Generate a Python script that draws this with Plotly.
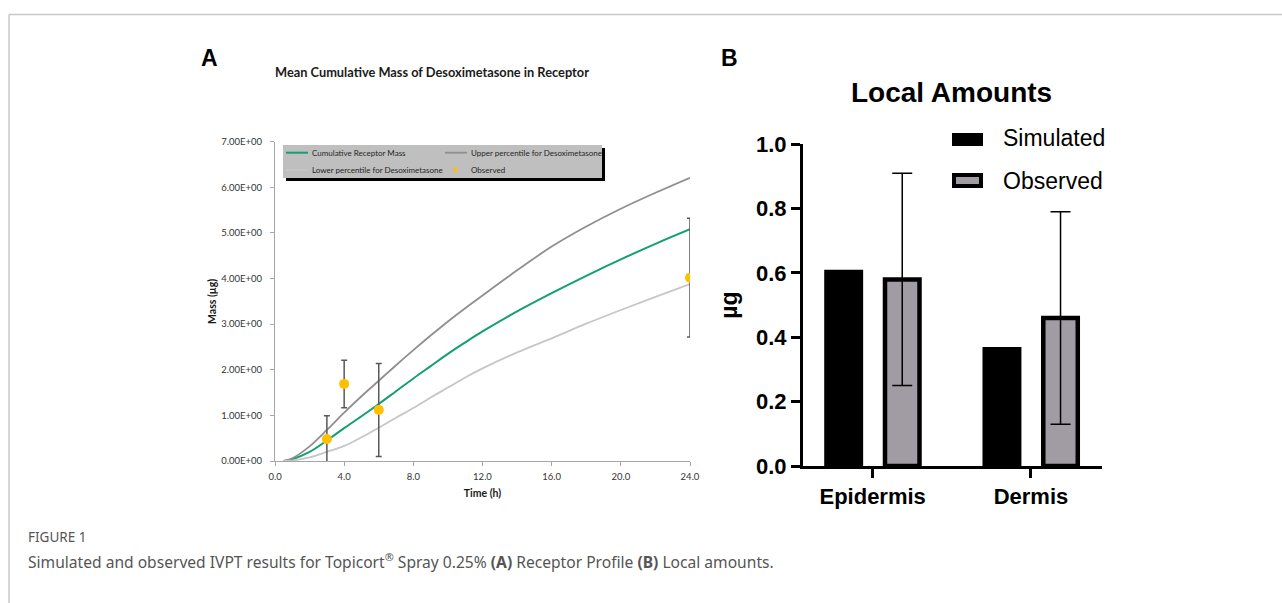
import plotly.graph_objects as go

W, H = 1282, 603

# ---- Panel A: receptor profile ----
time_h = [0.5, 1, 2, 3, 4, 5, 6, 7, 8, 9, 10, 11, 12, 14, 16, 18, 20, 22, 24]
mean_mass = [0, 0.04, 0.2, 0.45, 0.72, 0.98, 1.25, 1.53, 1.81, 2.08, 2.35, 2.6, 2.84,
             3.28, 3.68, 4.06, 4.42, 4.76, 5.08]
upper_mass = [0, 0.06, 0.32, 0.68, 1.06, 1.42, 1.76, 2.1, 2.43, 2.75, 3.06, 3.35, 3.63,
              4.18, 4.70, 5.14, 5.53, 5.88, 6.21]
lower_mass = [0, 0.01, 0.08, 0.2, 0.33, 0.52, 0.73, 0.95, 1.16, 1.39, 1.61, 1.83, 2.03,
              2.38, 2.69, 3.01, 3.31, 3.6, 3.88]
obs_time = [3, 4, 6, 24]
obs_mass = [0.48, 1.69, 1.12, 4.02]
obs_err = [0.51, 0.52, 1.02, 1.30]

a_yticks = [0, 1, 2, 3, 4, 5, 6, 7]
a_yticktext = ["0.00E+00", "1.00E+00", "2.00E+00", "3.00E+00", "4.00E+00",
               "5.00E+00", "6.00E+00", "7.00E+00"]
a_xticks = [0, 4, 8, 12, 16, 20, 24]
a_xticktext = ["0.0", "4.0", "8.0", "12.0", "16.0", "20.0", "24.0"]

# ---- Panel B: local amounts ----
layers = ["Epidermis", "Dermis"]
simulated = [0.61, 0.37]
observed = [0.58, 0.46]
observed_err = [0.33, 0.33]

# colours
GREEN = "#12a070"
UPPER = "#8f8f8f"
LOWER = "#c6c6c6"
GOLD = "#ffc000"
OBS_FILL = "#a19ca4"

FA = "Lato"
FB = "Liberation Sans"


def px_x(p):
    return p / W


def px_y(p):
    return 1 - p / H


fig = go.Figure()

# Panel A traces
fig.add_trace(go.Scatter(
    x=time_h, y=mean_mass, mode="lines", name="Cumulative Receptor Mass",
    line=dict(color=GREEN, width=2, shape="spline"), xaxis="x", yaxis="y"))
fig.add_trace(go.Scatter(
    x=time_h, y=upper_mass, mode="lines", name="Upper percentile for Desoximetasone",
    line=dict(color=UPPER, width=1.8, shape="spline"), xaxis="x", yaxis="y"))
fig.add_trace(go.Scatter(
    x=time_h, y=lower_mass, mode="lines", name="Lower percentile for Desoximetasone",
    line=dict(color=LOWER, width=1.8, shape="spline"), xaxis="x", yaxis="y"))
fig.add_trace(go.Scatter(
    x=obs_time, y=obs_mass, mode="markers", name="Observed",
    marker=dict(color=GOLD, size=10),
    error_y=dict(type="data", array=obs_err, color="#595959", thickness=1.5, width=3),
    xaxis="x", yaxis="y"))

# Panel B traces
fig.add_trace(go.Bar(
    x=layers, y=simulated, name="Simulated",
    marker=dict(color="black", line=dict(color="black", width=0)),
    width=0.246, offset=-0.306, xaxis="x2", yaxis="y2"))
fig.add_trace(go.Bar(
    x=layers, y=observed, name="Observed",
    marker=dict(color=OBS_FILL, line=dict(color="black", width=4.5)),
    error_y=dict(type="data", array=observed_err, color="black", thickness=1.5, width=10),
    width=0.218, offset=0.078, xaxis="x2", yaxis="y2"))

shapes = []
annotations = []


def rect(x0, y0, x1, y1, fill, line=None, layer="above"):
    shapes.append(dict(type="rect", xref="paper", yref="paper",
                       x0=px_x(x0), x1=px_x(x1), y0=px_y(y1), y1=px_y(y0),
                       fillcolor=fill, line=line or dict(width=0), layer=layer))


def seg(x0, y0, x1, y1, color, width):
    shapes.append(dict(type="line", xref="paper", yref="paper",
                       x0=px_x(x0), x1=px_x(x1), y0=px_y(y0), y1=px_y(y1),
                       line=dict(color=color, width=width)))


def label(text, x, y, size, family, color="black", xanchor="left", weight=None):
    font = dict(family=family, size=size, color=color)
    if weight:
        font["weight"] = weight
    annotations.append(dict(text=text, x=px_x(x), y=px_y(y), xref="paper", yref="paper",
                            xanchor=xanchor, yanchor="middle", showarrow=False, font=font))


# card frame (top and left edges)
seg(9, 14.5, W, 14.5, "#c8c8c8", 1.5)
seg(9, 14.5, 9, H, "#c8c8c8", 1.5)

# panel A legend: shadowed grey box, two columns
rect(286, 148, 605, 181, "black")
rect(283, 145, 602, 178, "#bfbfbf")
seg(286, 152.7, 308, 152.7, GREEN, 2)
seg(445, 152.7, 467, 152.7, UPPER, 1.8)
seg(286, 170, 308, 170, LOWER, 1.8)
shapes.append(dict(type="circle", xref="paper", yref="paper",
                   x0=px_x(453), x1=px_x(457.5), y0=px_y(172), y1=px_y(167.5),
                   fillcolor=GOLD, line=dict(width=0)))
label("Cumulative Receptor Mass", 310, 153, 8, FA, "#262626")
label("Upper percentile for Desoximetasone", 469, 153, 8, FA, "#262626")
label("Lower percentile for Desoximetasone", 310, 170, 8, FA, "#262626")
label("Observed", 469, 170, 8, FA, "#262626")

# panel B legend
rect(952, 133, 983, 146, "black")
rect(954, 175, 981, 186, OBS_FILL, dict(color="black", width=4))
label("Simulated", 1001, 138, 23, FB)
label("Observed", 1001, 181, 23, FB)

# panel letters and titles
label("<b>A</b>", 199, 58, 23, FB)
label("<b>B</b>", 719, 58, 23, FB)
label("<b>Mean Cumulative Mass of Desoximetasone in Receptor</b>", 432, 72, 12.8, FA,
      "#1a1a1a", xanchor="center")
label("<b>Local Amounts</b>", 951, 93, 28, FB, xanchor="center")

# caption
label("FIGURE 1", 26, 537, 13.5, "Noto Sans", "#555555")
label("Simulated and observed IVPT results for Topicort<sup>®</sup> Spray 0.25% "
      "<b>(A)</b> Receptor Profile <b>(B)</b> Local amounts.",
      26, 561, 15.6, "Noto Sans", "#555555")

fig.update_layout(
    template="none",
    width=W, height=H,
    margin=dict(l=0, r=0, t=0, b=0, autoexpand=False),
    paper_bgcolor="white", plot_bgcolor="white",
    showlegend=False,
    shapes=shapes, annotations=annotations,
    xaxis=dict(
        domain=[px_x(275), px_x(690)], range=[0, 24], anchor="y", automargin=False,
        tickvals=a_xticks, ticktext=a_xticktext,
        ticks="outside", ticklen=4, tickcolor="#a6a6a6", tickwidth=1,
        ticklabelstandoff=3,
        showline=True, linecolor="#a6a6a6", linewidth=1, showgrid=False, zeroline=False,
        tickfont=dict(family=FA, size=9.5, color="#333333"),
        title=dict(text="<b>Time (h)</b>", standoff=8,
                   font=dict(family=FA, size=10.5, color="#1a1a1a")),
    ),
    yaxis=dict(
        domain=[px_y(461), px_y(141.7)], range=[0, 7], anchor="x", automargin=False,
        tickvals=a_yticks, ticktext=a_yticktext,
        ticks="outside", ticklen=4, tickcolor="#a6a6a6", tickwidth=1,
        ticklabelstandoff=6,
        showline=True, linecolor="#a6a6a6", linewidth=1, showgrid=False, zeroline=False,
        tickfont=dict(family=FA, size=9.5, color="#333333"),
        title=dict(text="<b>Mass (µg)</b>", standoff=2,
                   font=dict(family=FA, size=10.5, color="#1a1a1a")),
    ),
    xaxis2=dict(
        domain=[px_x(803), px_x(1102)], range=[-0.44, 1.449], anchor="y2",
        type="category", automargin=False,
        ticks="outside", ticklen=9, tickwidth=3, tickcolor="black",
        showline=True, linecolor="black", linewidth=3, showgrid=False, zeroline=False,
        tickfont=dict(family=FB, size=22, color="black", weight="bold"),
    ),
    yaxis2=dict(
        domain=[px_y(466), px_y(144.3)], range=[0, 1.0], anchor="x2", automargin=False,
        tickvals=[0, 0.2, 0.4, 0.6, 0.8, 1.0], tickformat=".1f",
        ticks="outside", ticklen=9, tickwidth=3, tickcolor="black",
        showline=True, linecolor="black", linewidth=3, showgrid=False, zeroline=False,
        tickfont=dict(family=FB, size=22, color="black", weight="bold"),
        title=dict(text="<b>µg</b>", standoff=12,
                   font=dict(family=FB, size=23, color="black")),
    ),
)

fig.write_html("out.html")
